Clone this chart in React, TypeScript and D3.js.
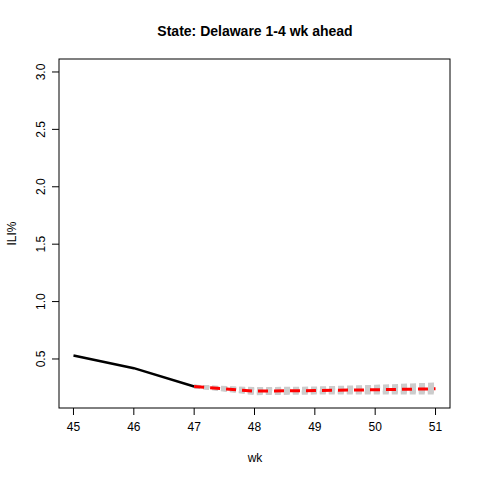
import React from 'react';
import * as d3 from 'd3';

const obsWeeks = [45, 46, 47];
const obsValues = [0.53, 0.42, 0.26];
const fcWeeks = [47, 48, 49, 50, 51];
const fcMean = [0.26, 0.22, 0.225, 0.232, 0.24];
const fcSamples = [
  [0.26, 0.2, 0.205, 0.205, 0.205],
  [0.26, 0.21, 0.215, 0.215, 0.22],
  [0.26, 0.215, 0.22, 0.225, 0.23],
  [0.26, 0.225, 0.23, 0.24, 0.25],
  [0.26, 0.23, 0.235, 0.25, 0.26],
  [0.26, 0.235, 0.24, 0.255, 0.27],
  [0.26, 0.24, 0.245, 0.26, 0.28],
];
const xTicks = [45, 46, 47, 48, 49, 50, 51];
const yTicks = [0.5, 1.0, 1.5, 2.0, 2.5, 3.0];

const App: React.FC = () => {
  const left = 59, right = 450, top = 59, bottom = 408;
  const x = d3.scaleLinear().domain([44.76, 51.24]).range([left, right]);
  const y = d3.scaleLinear().domain([0.073, 3.113]).range([bottom, top]);
  const line = d3.line<[number, number]>().x(d => x(d[0])).y(d => y(d[1]));
  const font = 'Liberation Sans, Arial, sans-serif';

  return (
    <svg width={480} height={480} style={{ position: 'absolute', left: 0, top: 0 }} fontFamily={font}>
      <rect width={480} height={480} fill="white" />
      <text x={255} y={36} textAnchor="middle" fontWeight="bold" fontSize={14}>State: Delaware 1-4 wk ahead</text>
      {fcSamples.map((s, i) => (
        <path key={i} d={line(fcWeeks.map((w, j) => [w, s[j]]) as [number, number][])!}
          fill="none" stroke="#cccccc" strokeWidth={3.5} strokeDasharray="6 3" />
      ))}
      <path d={line(obsWeeks.map((w, j) => [w, obsValues[j]]) as [number, number][])!}
        fill="none" stroke="black" strokeWidth={2.5} />
      <path d={line(fcWeeks.map((w, j) => [w, fcMean[j]]) as [number, number][])!}
        fill="none" stroke="red" strokeWidth={3} strokeDasharray="10 6" />
      <rect x={left} y={top} width={right - left} height={bottom - top} fill="none" stroke="black" />
      {xTicks.map(t => (
        <g key={t}>
          <line x1={x(t)} x2={x(t)} y1={bottom} y2={bottom + 7} stroke="black" />
          <text x={x(t)} y={bottom + 23} textAnchor="middle" fontSize={12}>{t}</text>
        </g>
      ))}
      {yTicks.map(t => (
        <g key={t}>
          <line x1={left - 7} x2={left} y1={y(t)} y2={y(t)} stroke="black" />
          <text transform={`translate(${left - 14},${y(t)}) rotate(-90)`} textAnchor="middle" fontSize={12}>{t.toFixed(1)}</text>
        </g>
      ))}
      <text x={255} y={462} textAnchor="middle" fontSize={12}>wk</text>
      <text transform={`translate(16,${(top + bottom) / 2}) rotate(-90)`} textAnchor="middle" fontSize={12}>ILI%</text>
    </svg>
  );
};

export default App;
